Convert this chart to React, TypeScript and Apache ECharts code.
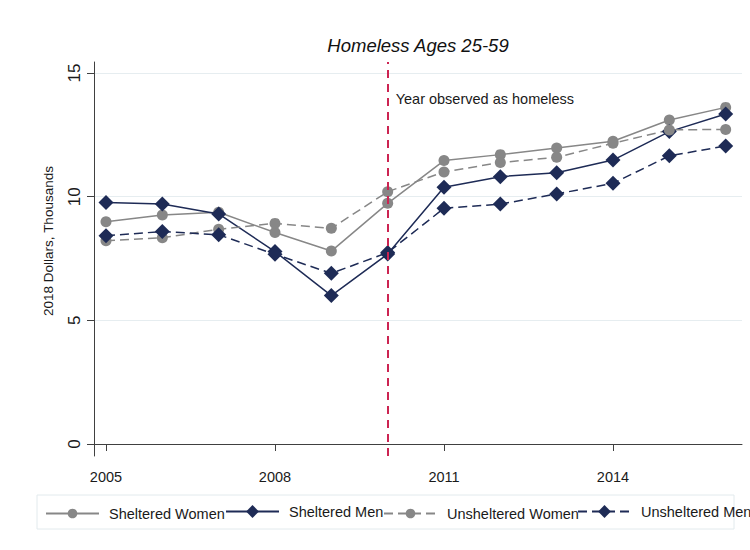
import React, { useEffect, useRef } from "react";
import * as echarts from "echarts";

// Survey years on the horizontal axis
const years = [2005, 2006, 2007, 2008, 2009, 2010, 2011, 2012, 2013, 2014, 2015, 2016];

// Earnings in thousands of 2018 dollars
const shelteredWomen = [8.99, 9.26, 9.37, 8.55, 7.8, 9.73, 11.46, 11.7, 11.97, 12.24, 13.1, 13.61];
const shelteredMen = [9.76, 9.7, 9.3, 7.78, 6.0, 7.68, 10.38, 10.81, 10.97, 11.48, 12.63, 13.34];
const unshelteredWomen = [8.22, 8.34, 8.68, 8.92, 8.72, 10.2, 11.0, 11.38, 11.59, 12.16, 12.7, 12.72];
const unshelteredMen = [8.42, 8.59, 8.46, 7.67, 6.9, 7.74, 9.53, 9.7, 10.11, 10.54, 11.65, 12.05];

// Tick positions
const xTicks = [2005, 2008, 2011, 2014];
const yTicks = [0, 5, 10, 15];

// Reference year marked by the vertical line
const observedYear = 2010;

const GRAY = "#878787";
const NAVY = "#1e2b56";
const RED = "#cc2452";
const FONT = "'Liberation Sans', Arial, sans-serif";

const pairs = (vals: number[]) => years.map((y, i) => [y, vals[i]]);

export default function App() {
  const ref = useRef<HTMLDivElement>(null);

  useEffect(() => {
    if (!ref.current) return;
    const chart = echarts.init(ref.current, null, { renderer: "svg" });

    const legendItem = (name: string, left: number, h: number) => ({
      data: [name],
      left,
      top: 512 - h / 2,
      itemWidth: 53,
      itemHeight: h,
      itemGap: 0,
      padding: 0,
      selectedMode: false,
      textStyle: {
        fontFamily: FONT,
        fontSize: 14.5,
        color: "#1a1a1a",
        padding: [0, 0, 0, 5],
      },
    });

    chart.setOption({
      animation: false,
      backgroundColor: "#ffffff",
      textStyle: { fontFamily: FONT },
      grid: {
        left: 94,
        top: 62,
        width: 648,
        height: 394,
        outerBoundsMode: "none",
        containLabel: false,
      },
      xAxis: {
        type: "value",
        min: 2004.787,
        max: 2016.29,
        axisLine: { show: true, lineStyle: { color: "#404040", width: 1 } },
        axisTick: {
          show: true,
          length: 7,
          customValues: xTicks,
          lineStyle: { color: "#404040" },
        },
        axisLabel: {
          customValues: xTicks,
          formatter: (v: number) => String(v),
          margin: 13,
          fontSize: 14.5,
          color: "#1a1a1a",
          fontFamily: FONT,
        },
        splitLine: { show: false },
      },
      yAxis: {
        type: "value",
        min: -0.485,
        max: 15.445,
        axisLine: { show: true, lineStyle: { color: "#404040", width: 1 } },
        axisTick: {
          show: true,
          length: 7,
          customValues: yTicks,
          lineStyle: { color: "#404040" },
        },
        axisLabel: {
          customValues: yTicks,
          formatter: (v: number) => String(v),
          rotate: 90,
          margin: 11,
          fontSize: 17,
          color: "#1a1a1a",
          fontFamily: FONT,
        },
        splitLine: { show: true, lineStyle: { color: "#e6edf0", width: 1 } },
      },
      legend: [
        legendItem("Sheltered Women", 45, 12),
        legendItem("Sheltered Men", 225, 16),
        legendItem("Unsheltered Women", 383, 12),
        legendItem("Unsheltered Men", 577, 16),
      ],
      series: [
        {
          name: "Sheltered Women",
          type: "line",
          data: pairs(shelteredWomen),
          symbol: "circle",
          symbolSize: 11,
          lineStyle: { color: GRAY, width: 1.5, type: "solid" },
          itemStyle: { color: GRAY },
          markLine: {
            silent: true,
            symbol: "none",
            label: { show: false },
            lineStyle: { color: RED, width: 2, type: [8, 6] },
            data: [{ xAxis: observedYear }],
          },
        },
        {
          name: "Sheltered Men",
          type: "line",
          data: pairs(shelteredMen),
          symbol: "diamond",
          symbolSize: 15,
          lineStyle: { color: NAVY, width: 1.5, type: "solid" },
          itemStyle: { color: NAVY },
        },
        {
          name: "Unsheltered Women",
          type: "line",
          data: pairs(unshelteredWomen),
          symbol: "circle",
          symbolSize: 11,
          lineStyle: { color: GRAY, width: 1.5, type: [9, 5] },
          itemStyle: { color: GRAY },
        },
        {
          name: "Unsheltered Men",
          type: "line",
          data: pairs(unshelteredMen),
          symbol: "diamond",
          symbolSize: 15,
          lineStyle: { color: NAVY, width: 1.5, type: [9, 5] },
          itemStyle: { color: NAVY },
        },
      ],
    });

    // Annotation next to the observed-year line, placed through the axis scales
    const anchor = chart.convertToPixel({ xAxisIndex: 0, yAxisIndex: 0 }, [observedYear, 13.95]) as number[];

    chart.setOption({
      graphic: [
        {
          type: "rect",
          z: -1,
          shape: { x: 37, y: 495, width: 697, height: 34 },
          style: { fill: "#ffffff", stroke: "#e2eaed", lineWidth: 1 },
          silent: true,
        },
        {
          type: "text",
          x: 418,
          y: 45,
          style: {
            text: "Homeless Ages 25-59",
            fontFamily: FONT,
            fontSize: 18.5,
            fontStyle: "italic",
            fill: "#111111",
            align: "center",
            verticalAlign: "middle",
          },
        },
        {
          type: "text",
          x: 48,
          y: 241,
          rotation: Math.PI / 2,
          style: {
            text: "2018 Dollars, Thousands",
            fontFamily: FONT,
            fontSize: 13.5,
            fill: "#1a1a1a",
            align: "center",
            verticalAlign: "middle",
          },
        },
        {
          type: "text",
          x: anchor[0] + 8,
          y: anchor[1],
          style: {
            text: "Year observed as homeless",
            fontFamily: FONT,
            fontSize: 14.5,
            fill: "#1a1a1a",
            align: "left",
            verticalAlign: "middle",
          },
        },
      ],
    });

    return () => chart.dispose();
  }, []);

  return (
    <div
      ref={ref}
      style={{ position: "fixed", left: 0, top: 0, width: 750, height: 550, background: "#fff" }}
    />
  );
}
